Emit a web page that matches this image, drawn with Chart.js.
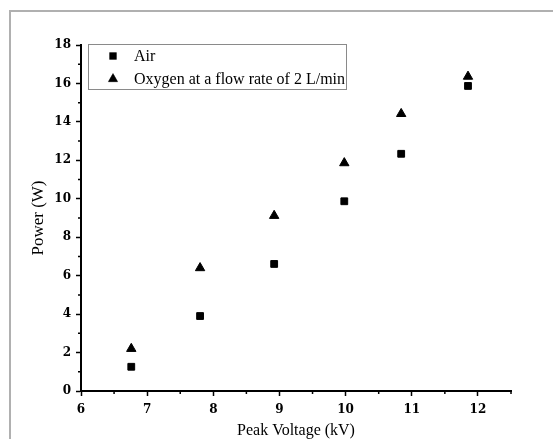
<!DOCTYPE html>
<html>
<head>
<meta charset="utf-8">
<script src="https://cdn.jsdelivr.net/npm/chart.js@4/dist/chart.umd.min.js"></script>
<style>
  html, body { margin: 0; padding: 0; background: #fff; overflow: hidden; }
  #frame { position: absolute; left: 9px; top: 10px; width: 700px; height: 600px;
           border-left: 2px solid #b0b0b0; border-top: 2px solid #b0b0b0; }
  canvas { position: absolute; left: 0; top: 0; }
</style>
</head>
<body>
<div id="frame"></div>
<canvas id="powerChart" width="553" height="439"></canvas>
<script>
// ── DATA ───────────────────────────────────────
const peakVoltage = [6.76, 7.8, 8.92, 9.98, 10.84, 11.85]
const airPower = [1.26, 3.9, 6.61, 9.87, 12.34, 15.87]
const oxygenPower = [2.2, 6.4, 9.12, 11.86, 14.42, 16.36]
const seriesLabels = ['Air', 'Oxygen at a flow rate of 2 L/min']
const xTicks = [6, 7, 8, 9, 10, 11, 12]
const yTicks = [0, 2, 4, 6, 8, 10, 12, 14, 16, 18]
const xMinorTicks = [6.5, 7.5, 8.5, 9.5, 10.5, 11.5, 12.5]
const yMinorTicks = [1, 3, 5, 7, 9, 11, 13, 15, 17]

const SERIF = "'Liberation Serif', 'Times New Roman', serif"
const TICK_FONT = "'DejaVu Serif', serif"

// minor ticks + floating legend box
const extras = {
  id: 'extras',
  afterDraw(chart) {
    const { ctx, chartArea, scales: { x, y } } = chart
    ctx.save()
    ctx.strokeStyle = '#000'
    ctx.lineWidth = 1.5
    ctx.beginPath()
    xMinorTicks.forEach(v => {
      const px = x.getPixelForValue(v)
      ctx.moveTo(px, chartArea.bottom)
      ctx.lineTo(px, chartArea.bottom + 3)
    })
    yMinorTicks.forEach(v => {
      const py = y.getPixelForValue(v)
      ctx.moveTo(chartArea.left, py)
      ctx.lineTo(chartArea.left - 3, py)
    })
    ctx.stroke()

    // legend
    const bx = chartArea.left + 7, by = chartArea.top - 1
    ctx.strokeStyle = '#8a8a8a'
    ctx.lineWidth = 1
    ctx.strokeRect(bx + 0.5, by + 0.5, 258, 45)
    ctx.font = '16px ' + SERIF
    ctx.textBaseline = 'middle'
    ctx.fillStyle = '#000'
    chart.data.datasets.forEach((ds, i) => {
      const ry = by + 12 + i * 23
      Chart.helpers.drawPoint(ctx, {
        pointStyle: ds.pointStyle, radius: ds.pointRadius, borderWidth: 1,
        rotation: 0
      }, bx + 25, ry)
      ctx.fill()
      ctx.fillText(ds.label, bx + 46, ry + 1)
    })
    ctx.restore()
  }
}

const ctx = document.getElementById('powerChart').getContext('2d')
new Chart(ctx, {
  type: 'scatter',
  data: {
    datasets: [
      {
        label: seriesLabels[0],
        data: peakVoltage.map((v, i) => ({ x: v, y: airPower[i] })),
        pointStyle: 'rect',
        pointRadius: 4.8,
        backgroundColor: '#000',
        borderColor: '#000',
        borderWidth: 1
      },
      {
        label: seriesLabels[1],
        data: peakVoltage.map((v, i) => ({ x: v, y: oxygenPower[i] })),
        pointStyle: 'triangle',
        pointRadius: 5.4,
        backgroundColor: '#000',
        borderColor: '#000',
        borderWidth: 1
      }
    ]
  },
  options: {
    responsive: false,
    animation: false,
    layout: { padding: { left: 0, top: 45, right: 42, bottom: 0 } },
    plugins: {
      legend: { display: false },
      tooltip: { enabled: false }
    },
    scales: {
      x: {
        type: 'linear',
        min: 6,
        max: 12.5,
        afterBuildTicks: s => { s.ticks = xTicks.map(v => ({ value: v })) },
        afterFit: s => { s.height = 48 },
        grid: { drawOnChartArea: false, tickLength: 5, tickWidth: 1.5, tickColor: '#000' },
        border: { display: true, color: '#000', width: 2 },
        ticks: {
          color: '#000', padding: 7, maxRotation: 0,
          font: { family: TICK_FONT, size: 12, weight: 'bold' }
        },
        title: {
          display: true, text: 'Peak Voltage (kV)', color: '#000',
          font: { family: SERIF, size: 16, lineHeight: 1 },
          padding: { top: 0, bottom: 0 }
        }
      },
      y: {
        type: 'linear',
        min: 0,
        max: 18,
        afterBuildTicks: s => { s.ticks = yTicks.map(v => ({ value: v })) },
        afterFit: s => { s.width = 81 },
        grid: { drawOnChartArea: false, tickLength: 5, tickWidth: 1.5, tickColor: '#000' },
        border: { display: true, color: '#000', width: 2 },
        ticks: {
          color: '#000', padding: 5,
          font: { family: TICK_FONT, size: 12, weight: 'bold' }
        },
        title: {
          display: true, text: 'Power (W)', color: '#000',
          font: { family: SERIF, size: 17, lineHeight: 1.2 },
          padding: { top: 28, bottom: 0 }
        }
      }
    }
  },
  plugins: [extras]
})
</script>
</body>
</html>
